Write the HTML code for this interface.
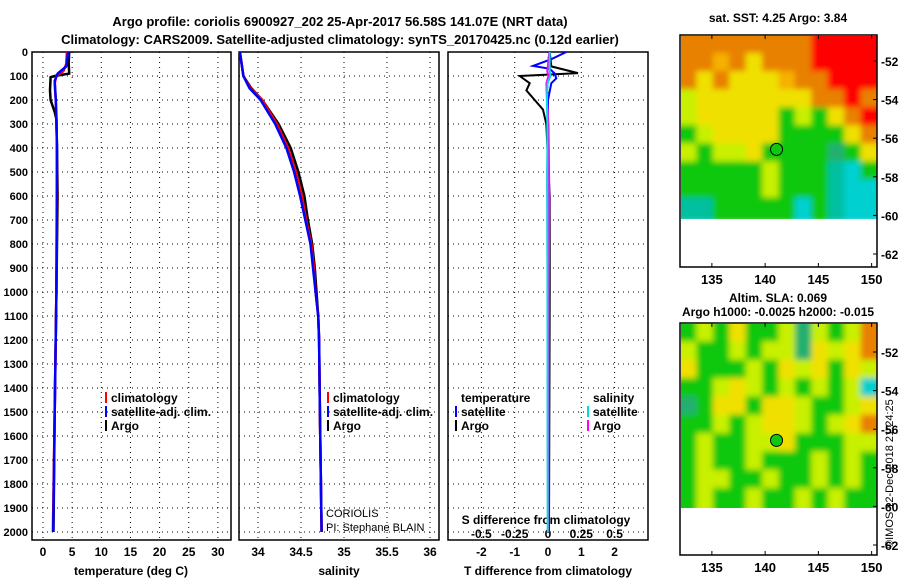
<!DOCTYPE html>
<html><head><meta charset="utf-8">
<style>
body{margin:0;background:#fff;}
svg{display:block;font-family:"Liberation Sans",sans-serif;font-weight:bold;}
</style></head>
<body>
<svg id="c" width="900" height="580" viewBox="0 0 900 580" xmlns="http://www.w3.org/2000/svg">
<defs>
<filter id="blur" x="-5%" y="-5%" width="110%" height="110%"><feGaussianBlur stdDeviation="3"/></filter>
<clipPath id="clip1"><rect x="681" y="36" width="196" height="183"/></clipPath>
<clipPath id="clip2"><rect x="681" y="324" width="196" height="184"/></clipPath>
</defs>
<text x="340" y="26" text-anchor="middle" font-size="13">Argo profile: coriolis 6900927_202 25-Apr-2017 56.58S 141.07E (NRT data)</text>
<text x="340" y="44" text-anchor="middle" font-size="13">Climatology: CARS2009. Satellite-adjusted climatology: synTS_20170425.nc (0.12d earlier)</text>
<text x="778" y="22" text-anchor="middle" font-size="12">sat. SST: 4.25 Argo: 3.84</text>
<text x="778" y="302" text-anchor="middle" font-size="12">Altim. SLA: 0.069</text>
<text x="778" y="316" text-anchor="middle" font-size="12">Argo h1000: -0.0025 h2000: -0.015</text>
<g id="g"></g>
<text transform="translate(893,548) rotate(-90)" font-size="11" font-weight="normal">©IMOS 12-Dec-2018 21:24:25</text>
</svg>
<script>
const depthTicks=[0,100,200,300,400,500,600,700,800,900,1000,1100,1200,1300,1400,1500,1600,1700,1800,1900,2000];
const tTicks=[0,5,10,15,20,25,30];
const sTicks=[34,34.5,35,35.5,36];
const tdTicks=[-2,-1,0,1,2];
const sdTicks=[-0.5,-0.25,0,0.25,0.5];
const sdTickLabels=["-0.5","-0.25","0","0.25","0.5"];
const climTdepth=[0,50,80,100,130,200,300,600,1000,1500,2000];
const climT=[4.1,4.0,3.5,2.3,2.0,2.2,2.35,2.4,2.3,2.0,1.7];
const satTdepth=[0,60,90,120,200,400,1000,1500,2000];
const satT=[4.3,4.0,2.5,2.0,2.2,2.4,2.3,2.0,1.75];
const argoTdepth=[0,50,90,100,105,160,200,250,280,400,600,1000,1500,2000];
const argoT=[4.5,4.4,4.5,2.0,1.3,1.2,1.3,2.0,2.3,2.4,2.5,2.3,2.0,1.8];
const sDepth=[0,100,150,200,300,400,500,600,700,800,900,1000,1100,1200,1500,2000];
const climS=[33.79,33.83,33.91,34.05,34.22,34.35,34.44,34.51,34.56,34.62,34.65,34.67,34.70,34.71,34.72,34.74];
const satS=[33.79,33.83,33.90,34.03,34.20,34.33,34.42,34.49,34.55,34.61,34.64,34.67,34.70,34.71,34.72,34.74];
const argoS=[33.79,33.83,33.92,34.05,34.24,34.38,34.47,34.54,34.58,34.63,34.66,34.68,34.70,34.71,34.72,34.74];
const argoTdDepth=[0,60,88,100,130,160,200,240,300,600,1000,2000];
const argoTd=[0.05,0.1,0.9,-0.85,-0.55,-0.65,-0.4,-0.15,-0.05,0.05,0.05,0.03];
const satTdDepth=[0,30,58,70,90,110,130,200,500,2000];
const satTd=[0.55,0.1,-0.45,0.05,0.2,0.25,0.1,0,-0.02,0];
const argoSdDepth=[0,80,100,130,200,300,400,600,1000,2000];
const argoSd=[0.01,-0.005,0.004,-0.012,-0.008,0.004,0.006,0.01,0.006,0.003];
const satSdDepth=[0,80,100,130,200,300,500,2000];
const satSd=[0.013,0.013,0.018,-0.003,-0.008,-0.005,-0.005,-0.002];
const lonTicks=[135,140,145,150];
const latTicks=[-52,-54,-56,-58,-60,-62];
const sstPal={R:"#ff0000",O:"#e88000",Q:"#f5b000",Y:"#f0e000",L:"#c8f000",G:"#10c810",T:"#20b070",A:"#00c0a0",C:"#00d0d0"};
const sstGrid=["OOOOOOOORRRR","OOQOYOOORRRR","OYOYYYQOORRR","LYYYYYYYOORO","LYYYYYGLGYOR","GLYYYYGGGGYO","LGLLYGGGGTGY","GGGGGLGGGACG","GGGGGLGGGACC","AAGGGGGCGACC"];
const slaGrid=["GLGYGGLTLGLO","LGGLGLLTYLYO","YGGGLGYLYGYL","GGLYLGLGLGLC","TGYYGYYLGGLY","GGLGLYYLGLYO","GLGGLLYGGGLL","GLGGLGGGLGLG","GLLGGLGGLGLG","GLGGLGGLGLGG"];
const argoLon=141.07, argoLat=-56.58;

const NS="http://www.w3.org/2000/svg";
const g=document.getElementById('g');
function el(t,a,p){const e=document.createElementNS(NS,t);for(const k in a)e.setAttribute(k,a[k]);(p||g).appendChild(e);return e;}
const PT=52,PB=540,dPx=0.24;
const yD=d=>PT+d*dPx;
const xT=v=>43+v*5.83, xS=v=>258+(v-34)*86, xTd=v=>548+v*33.3, xSd=v=>548+v*133.2;
function frame(x0,x1,name){
  const r=el('rect',{x:x0,y:PT,width:x1-x0,height:PB-PT,fill:'none',stroke:'#000','stroke-width':1.5});
  
  
  depthTicks.forEach(d=>{el('line',{x1:x0,x2:x1,y1:yD(d),y2:yD(d),stroke:'#000','stroke-dasharray':'1,4'});});
}
function vgrid(xs,x0,x1){xs.forEach(x=>{if(x>x0&&x<x1)el('line',{x1:x,x2:x,y1:PT,y2:PB,stroke:'#000','stroke-dasharray':'1,4'});});}
frame(32,231,'temperature-panel');frame(239,439,'salinity-panel');frame(448,648,'difference-panel');
vgrid(tTicks.map(xT),32,231);vgrid(sTicks.map(xS),239,439);vgrid(tdTicks.map(xTd),448,648);
depthTicks.forEach(d=>{const t=el('text',{x:28,y:yD(d)+4,'text-anchor':'end','font-size':11});t.textContent=d;
 
 });
function xlabels(ticks,fx,labels,y){ticks.forEach((v,i)=>{const t=el('text',{x:fx(v),y:y,'text-anchor':'middle','font-size':12});t.textContent=labels?labels[i]:v;
 
 });}
xlabels(tTicks,xT,null,556);xlabels(sTicks,xS,null,556);xlabels(tdTicks,xTd,null,556);xlabels(sdTicks,xSd,sdTickLabels,538);
[['temperature (deg C)',131,'x-axis-title-temperature'],['salinity',339,'x-axis-title-salinity'],['T difference from climatology',548,'x-axis-title-t-diff']].forEach(a=>{
 const t=el('text',{x:a[1],y:575,'text-anchor':'middle','font-size':12});t.textContent=a[0];
 
 });
{const t=el('text',{x:546,y:524,'text-anchor':'middle','font-size':12});t.textContent='S difference from climatology';
 
 }
function line(ds,vs,fx,col,w,name){
  const p=el('polyline',{points:ds.map((d,i)=>fx(vs[i]).toFixed(1)+','+yD(d).toFixed(1)).join(' '),fill:'none',stroke:col,'stroke-width':w});
  
  
}
line(argoTdepth,argoT,xT,'#000',2.5,'argo-temperature-line');
line(climTdepth,climT,xT,'#f00',2.5,'clim-temperature-line');
line(satTdepth,satT,xT,'#00f',2.5,'sat-temperature-line');
line(sDepth,argoS,xS,'#000',2.5,'argo-salinity-line');
line(sDepth,climS,xS,'#f00',2.5,'clim-salinity-line');
line(sDepth,satS,xS,'#00f',2.5,'sat-salinity-line');
line(argoTdDepth,argoTd,xTd,'#000',2,'argo-temp-diff-line');
line(satTdDepth,satTd,xTd,'#00f',2,'sat-temp-diff-line');
line(argoSdDepth,argoSd,xSd,'#f0f',2,'argo-sal-diff-line');
line(satSdDepth,satSd,xSd,'#0dd',2,'sat-sal-diff-line');
function legend(x,y,items,name){items.forEach((it,i)=>{
  if(it[1])el('rect',{x:x,y:y+i*14-10,width:2,height:11,fill:it[1]});
  const t=el('text',{x:x+6,y:y+i*14,'font-size':12});t.textContent=it[0];
  
  });}
legend(105,402,[['climatology','#f00'],['satellite-adj. clim.','#00f'],['Argo','#000']],'legend-entry');
legend(327,402,[['climatology','#f00'],['satellite-adj. clim.','#00f'],['Argo','#000']],'legend-entry');
legend(455,402,[['temperature',null],['satellite','#00f'],['Argo','#000']],'legend-entry');
legend(587,402,[['salinity',null],['satellite','#0dd'],['Argo','#f0f']],'legend-entry');
{const t=el('text',{x:326,y:517,'font-size':11,'font-weight':'normal'});t.textContent='CORIOLIS';
 const u=el('text',{x:326,y:531,'font-size':11,'font-weight':'normal'});u.textContent='PI: Stephane BLAIN';}
function map(y0,latY52,grid,name,clip){
  const xL=v=>681+(v-132.1)*10.65, yL=v=>latY52+(-52-v)*19.3;
  const x0=680,x1=877,yTop=y0,yBot=y0+232,yData=yL(-60);
  const cols=grid[0].length,rows=grid.length,cw=(x1-x0)/cols,ch=(yData-yTop)/rows;
  const cg=el('g',{'clip-path':'url(#'+clip+')'});
  const bg=el('g',{filter:'url(#blur)'},cg);
  grid.forEach((r,ri)=>{[...r].forEach((c,ci)=>{el('rect',{x:x0+ci*cw-(ci==0?6:0),y:yTop+ri*ch-(ri==0?6:0),width:cw+0.5+(ci==0||ci==cols-1?6:0),height:ch+0.5+(ri==0||ri==rows-1?6:0),fill:sstPal[c]},bg);});});
  const f=el('rect',{x:x0,y:yTop,width:x1-x0,height:yBot-yTop,fill:'none',stroke:'#000','stroke-width':1.5});
  
  
  lonTicks.forEach(v=>{el('line',{x1:xL(v),x2:xL(v),y1:yTop,y2:yTop+4,stroke:'#000'});el('line',{x1:xL(v),x2:xL(v),y1:yBot,y2:yBot-4,stroke:'#000'});
    const t=el('text',{x:xL(v),y:yBot+17,'text-anchor':'middle','font-size':13});t.textContent=v;
    
    });
  latTicks.forEach(v=>{el('line',{x1:x1,x2:x1-4,y1:yL(v),y2:yL(v),stroke:'#000'});
    const t=el('text',{x:x1+4,y:yL(v)+5,'font-size':12});t.textContent=v;
    
    });
  const m=el('circle',{cx:xL(argoLon),cy:yL(argoLat),r:6,fill:'#10c810',stroke:'#000'});
  
  
}
map(35,61,sstGrid,'sst-map','clip1');
map(323,352,slaGrid,'sla-map','clip2');
</script>
</body></html>
